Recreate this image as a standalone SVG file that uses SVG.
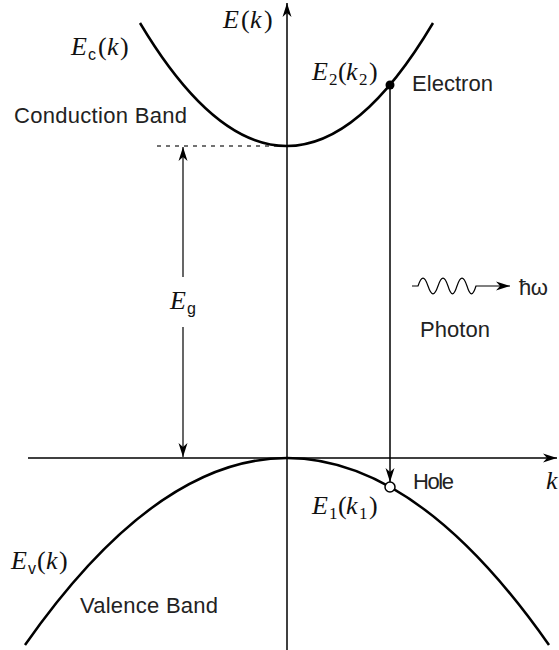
<svg xmlns="http://www.w3.org/2000/svg" width="559" height="650" viewBox="0 0 559 650">
<style>
.axis{stroke:#000;stroke-width:1.5;fill:none}
.band{stroke:#000;stroke-width:2.5;fill:none}
.thin{stroke:#000;stroke-width:1.2;fill:none}
.dash{stroke:#444;stroke-width:1.3;stroke-dasharray:4 5;fill:none}
.sans{font-family:"Liberation Sans",Arial,sans-serif;font-size:22px;fill:#222}
.math{font-family:"Liberation Serif","Times New Roman",serif;font-size:26px;fill:#111}
.it{font-style:italic}
.sub{font-family:"Liberation Sans",Arial,sans-serif;font-size:16px}
.subn{font-family:"Liberation Serif",serif;font-size:17px}
</style>
<defs>
<marker id="arr" markerUnits="userSpaceOnUse" viewBox="-15 -5 16 10" markerWidth="16" markerHeight="10" refX="0" refY="0" orient="auto-start-reverse">
<path d="M0,0 L-14,-4.5 L-10,0 L-14,4.5 Z" fill="#000"/>
</marker>
</defs>
<rect width="559" height="650" fill="#fff"/>
<g id="connectors">
<line class="axis" x1="287" y1="650" x2="287" y2="3" marker-end="url(#arr)"/>
<line class="axis" x1="28" y1="458" x2="557" y2="458" marker-end="url(#arr)"/>
<line class="dash" x1="157" y1="146" x2="287" y2="146"/>
<line class="thin" x1="183" y1="277" x2="183" y2="147" marker-end="url(#arr)"/>
<line class="thin" x1="183" y1="327" x2="183" y2="457" marker-end="url(#arr)"/>
<line class="axis" x1="390" y1="85" x2="390" y2="482" marker-end="url(#arr)"/>
</g>
<g id="conduction-band">
<path class="band" d="M140,23 Q287,269 433,23"/>
<text class="math" y="55"><tspan class="it" x="71">E</tspan><tspan class="sub" x="88" dy="5">c</tspan><tspan x="98" dy="-5">(</tspan><tspan class="it" x="107">k</tspan><tspan x="120">)</tspan></text>
<text class="sans" x="14" y="123" textLength="173">Conduction Band</text>
</g>
<g id="valence-band">
<path class="band" d="M25,645 Q287,271 549,645"/>
<text class="math" y="569"><tspan class="it" x="11">E</tspan><tspan class="sub" x="28" dy="5">v</tspan><tspan x="37" dy="-5">(</tspan><tspan class="it" x="46">k</tspan><tspan x="59">)</tspan></text>
<text class="sans" x="80" y="613" textLength="138">Valence Band</text>
</g>
<g id="axis-labels">
<text class="math" y="28"><tspan class="it" x="223">E</tspan><tspan x="241">(</tspan><tspan class="it" x="250">k</tspan><tspan x="264">)</tspan></text>
<text class="math it" x="546" y="489">k</text>
</g>
<g id="gap">
<text class="math" y="309"><tspan class="it" x="170">E</tspan><tspan class="sub" x="187" dy="5">g</tspan></text>
</g>
<g id="electron">
<circle cx="390" cy="85" r="4.5" fill="#000"/>
<text class="math" y="80"><tspan class="it" x="312">E</tspan><tspan class="subn" x="329" dy="5">2</tspan><tspan x="338" dy="-5">(</tspan><tspan class="it" x="346">k</tspan><tspan class="subn" x="359" dy="5">2</tspan><tspan x="369" dy="-5">)</tspan></text>
<text class="sans" x="412" y="91" textLength="81">Electron</text>
</g>
<g id="hole">
<circle cx="390" cy="487" r="5" fill="#fff" stroke="#000" stroke-width="1.5"/>
<text class="math" y="514"><tspan class="it" x="312">E</tspan><tspan class="subn" x="329" dy="5">1</tspan><tspan x="338" dy="-5">(</tspan><tspan class="it" x="346">k</tspan><tspan class="subn" x="359" dy="5">1</tspan><tspan x="369" dy="-5">)</tspan></text>
<text class="sans" x="413" y="489" textLength="41">Hole</text>
</g>
<g id="photon">
<path class="thin" stroke-width="1.5" d="M412,286 L418,286 C421.6,275.5 424.4,275.5 428,286 C431.6,296.5 434.4,296.5 438,286 C441.6,275.5 444.4,275.5 448,286 C451.3,296.5 453.7,296.5 457,286 C460.6,275.5 463.4,275.5 467,286 C470.3,296.5 472.7,296.5 476,286 L510,286" marker-end="url(#arr)"/>
<text class="sans" x="519" y="295" textLength="29">ħω</text>
<text class="sans" x="420" y="337" textLength="70">Photon</text>
</g>
</svg>
